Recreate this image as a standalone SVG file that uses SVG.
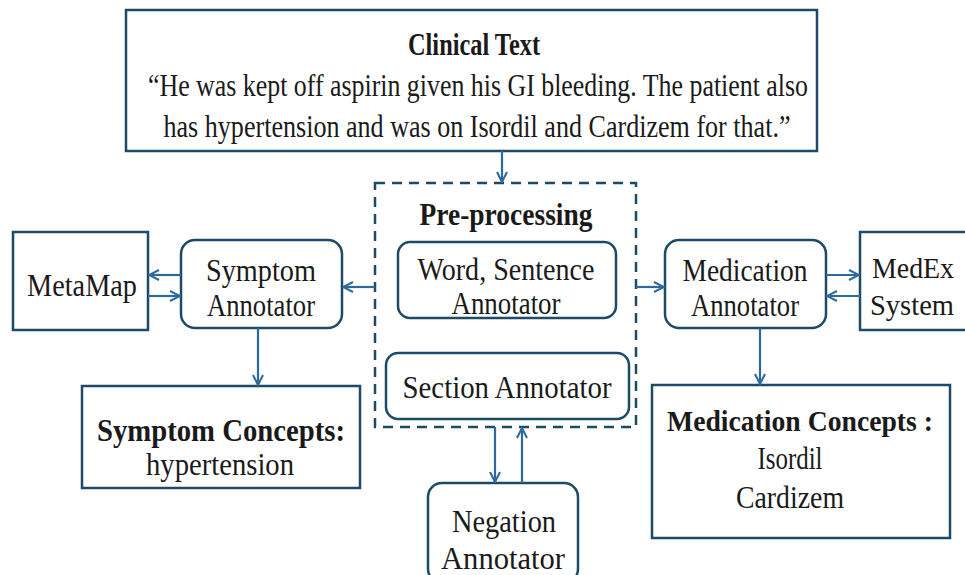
<svg xmlns="http://www.w3.org/2000/svg" width="965" height="575" viewBox="0 0 965 575">
<defs>
<style>
.box{fill:#ffffff;stroke:#1d4a66;stroke-width:2.5}
.t{font-family:'Liberation Serif','DejaVu Serif',serif;font-size:32px;fill:#1a1a1a;text-anchor:middle}
.s{font-size:29px}
.b{font-weight:bold}
.c{stroke:#2c6a9e;stroke-width:2.2;fill:none}
</style>
<marker id="ah" viewBox="0 0 12 12" refX="11" refY="6" markerWidth="12" markerHeight="12" markerUnits="userSpaceOnUse" orient="auto">
<path d="M1,1 L11,6 L1,11" fill="none" stroke="#2c6a9e" stroke-width="2"/>
</marker>
</defs>
<rect width="965" height="575" fill="#ffffff"/>

<g id="clinical-text">
<rect class="box" x="126" y="10" width="691" height="141"/>
<text class="t b" x="474" y="55" textLength="132" lengthAdjust="spacingAndGlyphs">Clinical Text</text>
<text class="t" x="478" y="96" textLength="660" lengthAdjust="spacingAndGlyphs">“He was kept off aspirin given his GI bleeding. The patient also</text>
<text class="t" x="477" y="137" textLength="627" lengthAdjust="spacingAndGlyphs">has hypertension and was on Isordil and Cardizem for that.”</text>
</g>

<g id="pre-processing">
<rect x="375" y="183" width="261" height="244" fill="none" stroke="#1d4a66" stroke-width="2.5" stroke-dasharray="10,7"/>
<text class="t b" x="506" y="225" textLength="173" lengthAdjust="spacingAndGlyphs">Pre-processing</text>
</g>

<g id="word-sentence-annotator">
<rect class="box" x="398" y="242" width="218" height="76" rx="12"/>
<text class="t" x="506" y="280" textLength="177" lengthAdjust="spacingAndGlyphs">Word, Sentence</text>
<text class="t" x="506" y="314" textLength="109" lengthAdjust="spacingAndGlyphs">Annotator</text>
</g>

<g id="section-annotator">
<rect class="box" x="386" y="353" width="243" height="66" rx="12"/>
<text class="t" x="507" y="398" textLength="209" lengthAdjust="spacingAndGlyphs">Section Annotator</text>
</g>

<g id="symptom-annotator">
<rect class="box" x="181" y="240" width="161" height="88" rx="14"/>
<text class="t" x="261" y="281" textLength="110" lengthAdjust="spacingAndGlyphs">Symptom</text>
<text class="t" x="261" y="316" textLength="108" lengthAdjust="spacingAndGlyphs">Annotator</text>
</g>

<g id="metamap">
<rect class="box" x="13" y="232" width="135" height="98"/>
<text class="t" x="82" y="296" textLength="110" lengthAdjust="spacingAndGlyphs">MetaMap</text>
</g>

<g id="medication-annotator">
<rect class="box" x="665" y="240" width="161" height="88" rx="14"/>
<text class="t" x="745" y="281" textLength="125" lengthAdjust="spacingAndGlyphs">Medication</text>
<text class="t" x="745" y="316" textLength="108" lengthAdjust="spacingAndGlyphs">Annotator</text>
</g>

<g id="medex-system">
<path d="M967,232 H860 V330 H967" fill="#ffffff" stroke="#1d4a66" stroke-width="2.5"/>
<text class="t s" x="913" y="278" textLength="82" lengthAdjust="spacingAndGlyphs">MedEx</text>
<text class="t s" x="912" y="315" textLength="84" lengthAdjust="spacingAndGlyphs">System</text>
</g>

<g id="symptom-concepts">
<rect class="box" x="82" y="386" width="278" height="102"/>
<text class="t b" x="221" y="441" textLength="248" lengthAdjust="spacingAndGlyphs">Symptom Concepts:</text>
<text class="t" x="220" y="475" textLength="148" lengthAdjust="spacingAndGlyphs">hypertension</text>
</g>

<g id="medication-concepts">
<rect class="box" x="652" y="385" width="298" height="153"/>
<text class="t b s" x="800" y="431" textLength="266" lengthAdjust="spacingAndGlyphs">Medication Concepts :</text>
<text class="t" x="790" y="469" textLength="65" lengthAdjust="spacingAndGlyphs">Isordil</text>
<text class="t" x="790" y="508" textLength="108" lengthAdjust="spacingAndGlyphs">Cardizem</text>
</g>

<g id="negation-annotator">
<rect class="box" x="428" y="483" width="150" height="100" rx="14"/>
<text class="t" x="504" y="532" textLength="104" lengthAdjust="spacingAndGlyphs">Negation</text>
<text class="t" x="503" y="569" textLength="124" lengthAdjust="spacingAndGlyphs">Annotator</text>
</g>

<g id="connectors">
<line class="c" x1="502" y1="151" x2="502" y2="182" marker-end="url(#ah)"/>
<line class="c" x1="375" y1="287" x2="343" y2="287" marker-end="url(#ah)"/>
<line class="c" x1="181" y1="275" x2="149" y2="275" marker-end="url(#ah)"/>
<line class="c" x1="148" y1="296" x2="180" y2="296" marker-end="url(#ah)"/>
<line class="c" x1="636" y1="287" x2="664" y2="287" marker-end="url(#ah)"/>
<line class="c" x1="826" y1="275" x2="859" y2="275" marker-end="url(#ah)"/>
<line class="c" x1="860" y1="296" x2="827" y2="296" marker-end="url(#ah)"/>
<line class="c" x1="258" y1="328" x2="258" y2="385" marker-end="url(#ah)"/>
<line class="c" x1="760" y1="328" x2="760" y2="384" marker-end="url(#ah)"/>
<line class="c" x1="495" y1="427" x2="495" y2="482" marker-end="url(#ah)"/>
<line class="c" x1="522" y1="483" x2="522" y2="428" marker-end="url(#ah)"/>
</g>
</svg>
